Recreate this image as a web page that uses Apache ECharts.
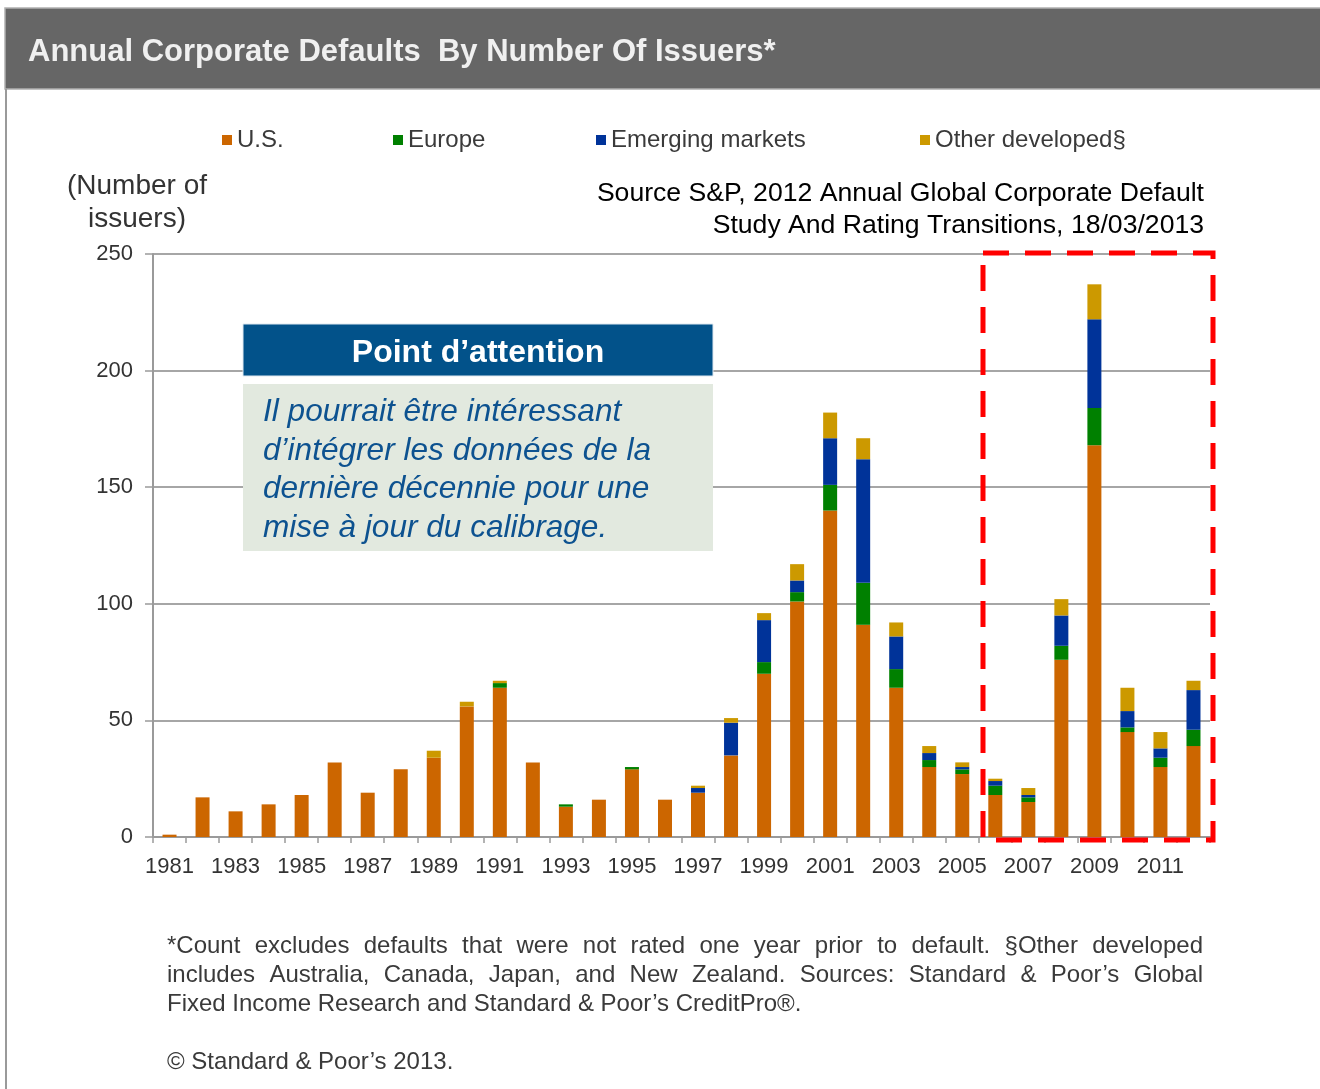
<!DOCTYPE html>
<html>
<head>
<meta charset="utf-8">
<script src="https://cdn.jsdelivr.net/npm/echarts@6/dist/echarts.min.js"></script>
<style>
  html, body { margin: 0; padding: 0; background: #ffffff; }
  #chart { width: 1320px; height: 1089px; }
</style>
</head>
<body>
<div id="chart"></div>
<script>
// Annual corporate defaults by number of issuers, by region (S&P)
const years = ['1981','1982','1983','1984','1985','1986','1987','1988','1989','1990',
  '1991','1992','1993','1994','1995','1996','1997','1998','1999','2000',
  '2001','2002','2003','2004','2005','2006','2007','2008','2009','2010','2011','2012'];

const usDefaults       = [1, 17, 11, 14, 18, 32, 19, 29, 34, 56, 64, 32, 13, 16, 29, 16, 19, 35, 70, 101, 140, 91, 64, 30, 27, 18, 15, 76, 168, 45, 30, 39];
const europeDefaults   = [0, 0, 0, 0, 0, 0, 0, 0, 0, 0, 2, 0, 1, 0, 1, 0, 0, 0, 5, 4, 11, 18, 8, 3, 2, 4, 2, 6, 16, 2, 4, 7];
const emergingDefaults = [0, 0, 0, 0, 0, 0, 0, 0, 0, 0, 0, 0, 0, 0, 0, 0, 2, 14, 18, 5, 20, 53, 14, 3, 1, 2, 1, 13, 38, 7, 4, 17];
const otherDefaults    = [0, 0, 0, 0, 0, 0, 0, 0, 3, 2, 1, 0, 0, 0, 0, 0, 1, 2, 3, 7, 11, 9, 6, 3, 2, 1, 3, 7, 15, 10, 7, 4];

const seriesNames = ['U.S.', 'Europe', 'Emerging markets', 'Other developed§'];
const seriesValues = [usDefaults, europeDefaults, emergingDefaults, otherDefaults];
const seriesColors = ['#CC6600', '#008000', '#003399', '#CC9900'];

const yMin = 0, yMax = 250, yStep = 50;

const chartTitle = 'Annual Corporate Defaults  By Number Of Issuers*';
const yAxisTitle = '(Number of\nissuers)';
const sourceLines = ['Source S&P, 2012 Annual Global Corporate Default', 'Study And Rating Transitions, 18/03/2013'];
const noteTitle = 'Point d\u2019attention';
const noteBody = 'Il pourrait être intéressant\nd\u2019intégrer les données de la\ndernière décennie pour une\nmise à jour du calibrage.';
const footnoteLines = [
  '*Count excludes defaults that were not rated one year prior to default. §Other developed',
  'includes Australia, Canada, Japan, and New Zealand. Sources: Standard & Poor\u2019s Global',
  'Fixed Income Research and Standard & Poor\u2019s CreditPro®.'
];
const copyrightLine = '© Standard & Poor\u2019s 2013.';

const FONT = '"Liberation Sans", Arial, Helvetica, sans-serif';

// Justified footnote: words are spread across the text block width
const measureCtx = document.createElement('canvas').getContext('2d');
function footnoteLine(text, x0, x1, y, justify) {
  const font = '24px ' + FONT;
  if (!justify) {
    return [{ type: 'text', x: x0, y: y, z: 50,
      style: { text: text, font: font, fill: '#3a3a3a', align: 'left', verticalAlign: 'middle' } }];
  }
  measureCtx.font = font;
  const words = text.split(' ');
  const widths = words.map(w => measureCtx.measureText(w).width);
  const total = widths.reduce((a, b) => a + b, 0);
  const gap = (x1 - x0 - total) / (words.length - 1);
  const out = [];
  let x = x0;
  words.forEach((w, i) => {
    out.push({ type: 'text', x: x, y: y, z: 50,
      style: { text: w, font: font, fill: '#3a3a3a', align: 'left', verticalAlign: 'middle' } });
    x += widths[i] + gap;
  });
  return out;
}

const legendX = [222, 393, 596, 920];

const chart = echarts.init(document.getElementById('chart'), null, { renderer: 'canvas' });

const graphics = [
  // header band
  { type: 'rect', z: 1, shape: { x: 5, y: 8, width: 1320, height: 81 },
    style: { fill: '#666666', stroke: '#b0b0b0', lineWidth: 1.5 } },
  { type: 'text', x: 28, y: 52, z: 2,
    style: { text: chartTitle, font: 'bold 31px ' + FONT, fill: '#f0f0f0', align: 'left', verticalAlign: 'middle' } },
  // left frame line
  { type: 'line', z: 1, shape: { x1: 6, y1: 89, x2: 6, y2: 1089 },
    style: { stroke: '#9a9a9a', lineWidth: 2 } },
  // y-axis title
  { type: 'text', x: 137, y: 203, z: 2,
    style: { text: yAxisTitle, font: '28px ' + FONT, fill: '#333333', align: 'center', verticalAlign: 'middle', lineHeight: 33 } },
  // source
  { type: 'text', x: 1204, y: 210, z: 2,
    style: { text: sourceLines.join('\n'), font: '26.6px ' + FONT, fill: '#000000', align: 'right', verticalAlign: 'middle', lineHeight: 32 } },
  // note box
  { type: 'rect', z: 60, shape: { x: 243, y: 324, width: 470, height: 52 },
    style: { fill: '#02528A', stroke: '#dfe8f0', lineWidth: 1 } },
  { type: 'text', x: 478, y: 353, z: 61,
    style: { text: noteTitle, font: 'bold 32px ' + FONT, fill: '#ffffff', align: 'center', verticalAlign: 'middle' } },
  { type: 'rect', z: 60, shape: { x: 243, y: 384, width: 470, height: 167 },
    style: { fill: '#E2E9DF' } },
  { type: 'text', x: 263, y: 470, z: 61,
    style: { text: noteBody, font: 'italic 31.6px ' + FONT, fill: '#0D5290', align: 'left', verticalAlign: 'middle', lineHeight: 38.5 } },
  // highlighted period frame
  { type: 'rect', z: 70, shape: { x: 983, y: 253, width: 230, height: 587 },
    style: { fill: 'none', stroke: '#FF0000', lineWidth: 5, lineDash: [26, 16] } },
  // copyright
  { type: 'text', x: 167, y: 1062, z: 50,
    style: { text: copyrightLine, font: '24px ' + FONT, fill: '#3a3a3a', align: 'left', verticalAlign: 'middle' } }
]
  .concat(footnoteLine(footnoteLines[0], 167, 1203, 946, true))
  .concat(footnoteLine(footnoteLines[1], 167, 1203, 975, true))
  .concat(footnoteLine(footnoteLines[2], 167, 1203, 1004, false));

const option = {
  backgroundColor: '#ffffff',
  animation: false,
  textStyle: { fontFamily: FONT },
  legend: seriesNames.map((name, i) => ({
    data: [name],
    left: legendX[i],
    top: 128,
    padding: 0,
    icon: 'rect',
    itemWidth: 10,
    itemHeight: 10,
    selectedMode: false,
    textStyle: { fontSize: 24, color: '#3a3a3a', fontFamily: FONT }
  })),
  grid: { left: 153, right: 110, top: 254, bottom: 252, containLabel: false },
  xAxis: {
    type: 'category',
    data: years,
    boundaryGap: true,
    axisLine: { show: true, lineStyle: { color: '#9a9a9a', width: 2 } },
    axisTick: { show: true, interval: 0, alignWithLabel: false, length: 6, lineStyle: { color: '#9a9a9a', width: 1.5 } },
    axisLabel: { interval: 1, fontSize: 22, color: '#333333', margin: 19, fontFamily: FONT },
    splitLine: { show: false }
  },
  yAxis: {
    type: 'value',
    min: yMin,
    max: yMax,
    interval: yStep,
    axisLine: { show: true, lineStyle: { color: '#9a9a9a', width: 2 } },
    axisTick: { show: true, inside: false, length: 8, lineStyle: { color: '#9a9a9a', width: 1.5 } },
    axisLabel: { fontSize: 22, color: '#333333', margin: 20, fontFamily: FONT },
    splitLine: { show: true, lineStyle: { color: '#a6a6a6', width: 2 } }
  },
  series: seriesNames.map((name, i) => ({
    name: name,
    type: 'bar',
    stack: 'regions',
    barWidth: 14,
    data: seriesValues[i],
    itemStyle: { color: seriesColors[i] },
    emphasis: { disabled: true }
  })),
  graphic: graphics
};

chart.setOption(option);
</script>
</body>
</html>
